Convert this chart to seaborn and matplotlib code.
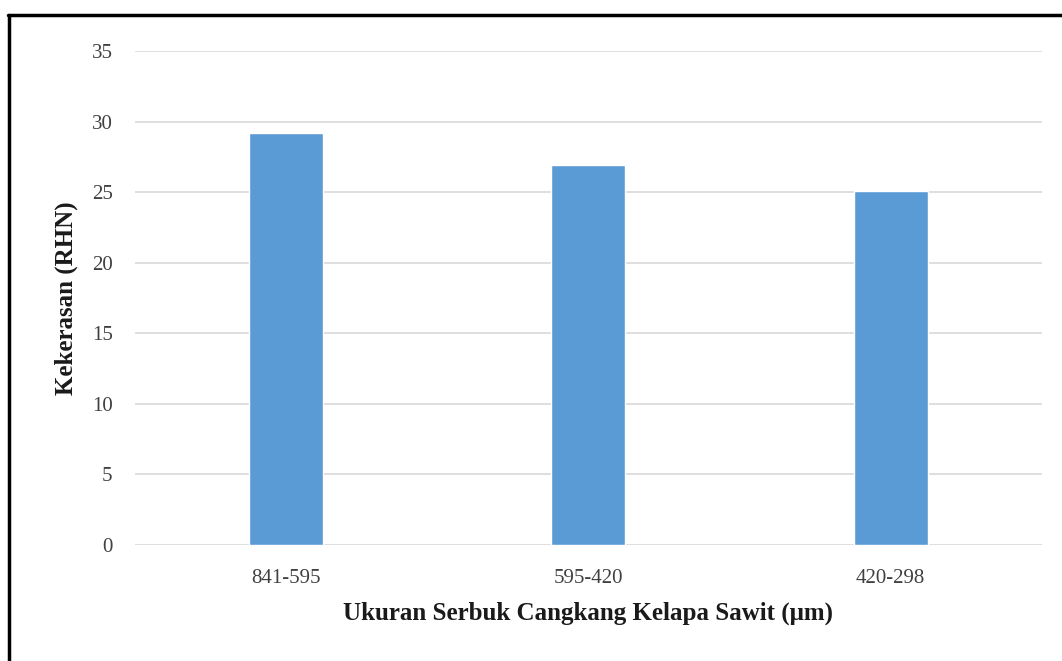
import matplotlib
matplotlib.use("Agg")
import matplotlib.pyplot as plt
import matplotlib.lines as mlines
import seaborn as sns
import pandas as pd

# Hardness per shell-powder particle size range
sizes = ["841-595", "595-420", "420-298"]
hardness = [29.2, 26.9, 25.1]
y_ticks = [0, 5, 10, 15, 20, 25, 30, 35]

df = pd.DataFrame({"size": sizes, "hardness": hardness})

sns.set_theme(style="white")
plt.rcParams["font.family"] = ["Liberation Serif", "DejaVu Serif"]

fig = plt.figure(figsize=(10.62, 6.61), dpi=100)
ax = fig.add_axes([0.127, 0.1755, 0.854, 0.7473])

sns.barplot(data=df, x="size", y="hardness", color="#5B9BD5", width=0.245,
            saturation=1, ax=ax, zorder=3)

ax.set_ylim(0, 35)
ax.set_xlim(-0.5, 2.5)
ax.set_yticks(y_ticks)
ax.yaxis.grid(True, color="#D9D9D9", linewidth=1.2, zorder=0)
ax.set_axisbelow(True)
for s in ax.spines.values():
    s.set_visible(False)
ax.tick_params(axis="both", length=0, labelsize=15, colors="#404040")
ax.tick_params(axis="x", pad=17)
ax.tick_params(axis="y", pad=16)

ax.set_ylabel("Kekerasan (RHN)", fontsize=18, fontweight="bold", color="#1a1a1a", labelpad=10)
ax.set_xlabel("Ukuran Serbuk Cangkang Kelapa Sawit (μm)", fontsize=18,
              fontweight="bold", color="#1a1a1a", labelpad=10)

# Black frame along the top and left edges
fig.add_artist(mlines.Line2D([8 / 1062, 1.0], [1 - 15 / 661, 1 - 15 / 661],
                             color="black", linewidth=2.5, transform=fig.transFigure))
fig.add_artist(mlines.Line2D([9 / 1062, 9 / 1062], [0.0, 1 - 15 / 661],
                             color="black", linewidth=2.5, transform=fig.transFigure))

fig.savefig("out.png", dpi=100, facecolor="white")
